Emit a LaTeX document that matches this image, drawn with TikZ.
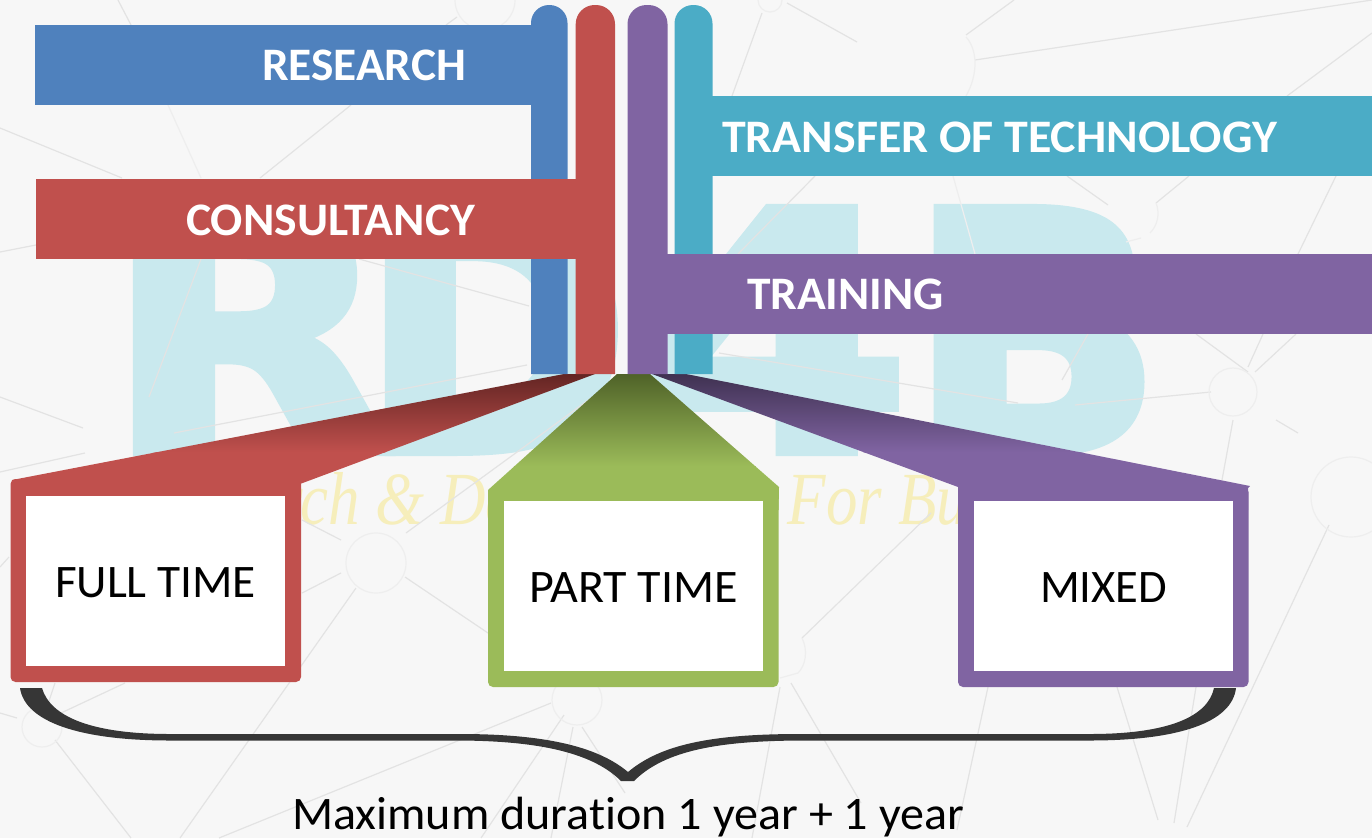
\documentclass[tikz,border=0pt]{standalone}
\usepackage{fontspec}
\usepackage{graphicx}
\setmainfont{Carlito}[Ligatures=NoCommon]
\newfontfamily\wmfont{DejaVu Sans}[BoldFeatures={FakeBold=3}]
\newfontfamily\scriptish{Liberation Serif}
\definecolor{cblue}{HTML}{4F81BD}
\definecolor{cred}{HTML}{C0504D}
\definecolor{cpurple}{HTML}{8064A2}
\definecolor{cteal}{HTML}{4BACC6}
\definecolor{cgreen}{HTML}{9BBB59}
\definecolor{dred}{HTML}{632523}
\definecolor{dgreen}{HTML}{4F6228}
\definecolor{dpurple}{HTML}{3F3151}
\definecolor{bgpage}{HTML}{F7F7F7}
\definecolor{netline}{HTML}{E3E3E3}
\definecolor{netpale}{HTML}{EEEEEE}
\definecolor{wmcyan}{HTML}{C9E9EE}
\definecolor{wmyellow}{HTML}{F6EEBB}
\definecolor{bracecol}{HTML}{363636}
\newcommand{\fitw}[2]{\resizebox{#1pt}{\height}{#2}}
\tikzset{
  x=1pt,y=-1pt,
  bar/.style={inner sep=0pt,outer sep=0pt,minimum height=80pt,anchor=north west},
  frame/.style={inner sep=0pt,outer sep=0pt,rounded corners=5pt,anchor=north west,minimum width=290.5pt},
  whitebox/.style={fill=white,inner sep=0pt,outer sep=0pt,anchor=north west,minimum width=259pt,minimum height=170pt},
  headlabel/.style={inner sep=0pt,outer sep=0pt,anchor=base west,text=white,font=\fontsize{46.6}{50}\selectfont\bfseries},
  boxlabel/.style={inner sep=0pt,outer sep=0pt,anchor=base west,text=black,font=\fontsize{46.6}{50}\selectfont},
  wmletter/.style={inner sep=0pt,outer sep=0pt,anchor=base west,text=wmcyan,font=\wmfont\bfseries\fontsize{100}{100}\selectfont},
  net/.style={draw=netline,line width=1.2pt},
  netsoft/.style={draw=netpale,line width=1.2pt}
}
\begin{document}
\begin{tikzpicture}
\useasboundingbox (0,0) rectangle (1372,838);
\fill[bgpage] (0,0) rectangle (1372,838);
% watermark
\node[wmletter] (wmR) at (104,451) {\resizebox{290pt}{242pt}{R}};
\node[wmletter] (wmD) at (360,451) {\resizebox{270pt}{242pt}{D}};
\node[wmletter] (wmF) at (636,451) {\resizebox{275pt}{242pt}{4}};
\node[wmletter] (wmB) at (908,451) {\resizebox{255pt}{242pt}{B}};
\node[inner sep=0pt,anchor=base west,text=wmyellow,font=\scriptish\itshape\fontsize{75}{75}\selectfont] (wmT) at (128,524) {\resizebox{990pt}{\height}{Research \& Development For Business}};
% network lines
\foreach \a/\b in {
 {0,128}/{122,178},{351,105}/{260,178},{0,252}/{36,245},{201,259}/{149,397},{359,259}/{529,306},
 {527,365}/{174,433},{0,397}/{83,428},{0,472}/{85,453},{118,0}/{131,25},{446,25}/{457,17},
 {787,3}/{857,42},{762,13}/{732,96},{1014,0}/{966,35},{975,60}/{1372,0},{1372,33}/{1287,96},
 {1067,176}/{1108,205},{1189,176}/{1156,203},{1336,176}/{1298,254},{815,176}/{738,254},
 {1263,334}/{1248,367},{1296,334}/{1255,372},{1211,392}/{1075,405},{719,353}/{1018,403},
 {1088,334}/{1062,380},{1276,420}/{1298,433},{931,513}/{802,638},{780,687}/{752,838},
 {791,683}/{861,803},{988,687}/{957,830},{1117,687}/{1158,820},{1196,687}/{1174,823},
 {1329,525}/{1187,827},{302,593}/{341,573},{302,520}/{341,540},{356,588}/{180,838},
 {405,577}/{488,633},{406,533}/{598,393},{55,683}/{45,713},{125,683}/{61,713},{0,713}/{17,718},
 {55,740}/{131,838},{551,703}/{219,838},{564,715}/{481,838},{573,727}/{551,838},{582,727}/{625,793},
 {0,567}/{9,557},{1233,420}/{1222,480},{1196,334}/{1248,372}}
 {\draw[net] (\a) -- (\b);}
\draw[netsoft] (168,105) -- (201,178);
\draw[netsoft] (953,176) -- (975,254);
\draw[netsoft] (966,37) .. controls (978,50) and (978,75) .. (966,96);
\draw[netsoft] (1156,203) .. controls (1160,213) and (1158,225) .. (1150,233);
\draw[netsoft] (1141,238) -- (1126,242);
\draw[netsoft] (802,638) .. controls (808,650) and (806,665) .. (798,673) -- (780,678);
\draw[netsoft] (376,563) circle (30);
\draw[netsoft] (42,727) circle (20);
\draw[netsoft] (577,700) circle (25);
\draw[netsoft] (1233,392) circle (24);
\draw[netsoft] (1351,497) circle (40);
\draw[netsoft] (770,0) circle (12);
\draw[netsoft] (485,0) circle (30);
% brace
\fill[bracecol] (20,688) .. controls (25,722) and (80,740.5) .. (170,740.5) -- (460,740.5)
  .. controls (530,741) and (590,750) .. (621,781) -- (634,781)
  .. controls (665,750) and (720,741) .. (800,740.5) -- (1090,740.5)
  .. controls (1180,740.5) and (1232,722) .. (1236,688) -- (1214,688)
  .. controls (1208,716) and (1170,734) .. (1090,734) -- (800,734)
  .. controls (710,734) and (660,745) .. (628,772)
  .. controls (596,745) and (540,734) .. (460,734) -- (170,734)
  .. controls (90,734) and (50,716) .. (42,688) -- cycle;
% callout necks
\begin{scope}
 \clip (564,374) -- (595,374) -- (300,484) -- (300,500) -- (12,500) -- (12,480) -- cycle;
 \shade[top color=dred,bottom color=cred] (0,374) rectangle (1372,452);
 \fill[cred] (0,451.5) rectangle (1372,510);
\end{scope}
\begin{scope}
 \clip (617,374) -- (650,374) -- (779,487) -- (778.5,510) -- (488,510) -- (488,490) -- cycle;
 \shade[top color=dgreen,bottom color=cgreen] (0,374) rectangle (1372,466);
 \fill[cgreen] (0,465.5) rectangle (1372,520);
\end{scope}
\begin{scope}
 \clip (652,374) -- (686,374) -- (1250,486) -- (1248,488) -- (1248,510) -- (958,510) -- (958,487) -- cycle;
 \shade[top color=dpurple,bottom color=cpurple] (0,374) rectangle (1372,452);
 \fill[cpurple] (0,451.5) rectangle (1372,520);
\end{scope}
% frames and white boxes
\node[frame,fill=cred,minimum height=203pt] (frameA) at (10.5,479) {};
\node[frame,fill=cgreen,minimum height=199pt] (frameB) at (488,488) {};
\node[frame,fill=cpurple,minimum height=200pt] (frameC) at (958,487) {};
\node[whitebox] (boxA) at (26,496) {};
\node[whitebox] (boxB) at (504,501) {};
\node[whitebox] (boxC) at (973.5,501) {};
\node[boxlabel] (fulltime) at (55,597) {\fitw{201}{FULL TIME}};
\node[boxlabel] (parttime) at (529,602) {\fitw{209}{PART TIME}};
\node[boxlabel] (mixed) at (1040,602) {\fitw{127}{MIXED}};
\node[boxlabel] (duration) at (292,829) {\fitw{672}{Maximum duration 1 year + 1 year}};
% vertical stems
\fill[cblue,rounded corners=18pt] (531,374) -- (531,5) -- (567.5,5) -- (567.5,374);
\fill[cred,rounded corners=19pt] (575.7,374) -- (575.7,5) -- (615,5) -- (615,374);
\fill[cpurple,rounded corners=19pt] (627.5,374) -- (627.5,5) -- (667.5,5) -- (667.5,374);
\fill[cteal,rounded corners=18.5pt] (674.5,374) -- (674.5,5) -- (712.5,5) -- (712.5,374);
% horizontal bars
\node[bar,fill=cblue,minimum width=497pt] (barR) at (35,25) {};
\node[bar,fill=cred,minimum width=541pt] (barC) at (36,179) {};
\node[bar,fill=cteal,minimum width=660pt] (barT) at (712,96) {};
\node[bar,fill=cpurple,minimum width=705pt] (barP) at (667,254) {};
\node[headlabel] (research) at (262,80) {\fitw{204}{RESEARCH}};
\node[headlabel] (consultancy) at (186,235) {\fitw{289}{CONSULTANCY}};
\node[headlabel] (transfer) at (722,152) {\fitw{555}{TRANSFER OF TECHNOLOGY}};
\node[headlabel] (training) at (747,309) {\fitw{197}{TRAINING}};
\end{tikzpicture}
\end{document}
